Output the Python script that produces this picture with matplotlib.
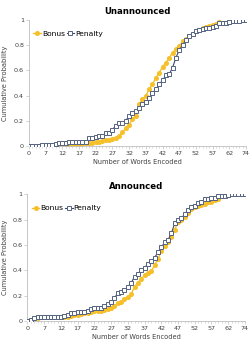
import matplotlib
matplotlib.use("Agg")
import matplotlib.pyplot as plt
from matplotlib.ticker import MultipleLocator

## cumulative probability of words encoded, bonus vs penalty, two panels

tick_labels = ['0', '7', '12', '17', '22', '27', '32', '37', '42', '47', '52', '57', '62', '74']

unann_penalty = [0.0, 0.0, 0.0, 0.0, 0.005, 0.005, 0.01, 0.01, 0.015, 0.02,
                 0.02, 0.025, 0.03, 0.03, 0.03, 0.03, 0.03, 0.03, 0.06, 0.065,
                 0.07, 0.075, 0.08, 0.10, 0.10, 0.13, 0.16, 0.18, 0.18, 0.20,
                 0.24, 0.26, 0.28, 0.30, 0.33, 0.35, 0.38, 0.42, 0.45, 0.49,
                 0.52, 0.56, 0.57, 0.62, 0.70, 0.76, 0.80, 0.84, 0.87, 0.89,
                 0.91, 0.92, 0.93, 0.935, 0.94, 0.945, 0.95, 0.975, 0.98, 0.98,
                 0.985, 0.99, 0.99, 0.995, 1.0, 1.0]
unann_bonus = [0.0, 0.0, 0.0, 0.0, 0.0, 0.0, 0.0, 0.0, 0.0, 0.0,
               0.005, 0.005, 0.01, 0.01, 0.01, 0.015, 0.015, 0.02, 0.02, 0.025,
               0.03, 0.035, 0.04, 0.045, 0.05, 0.055, 0.06, 0.08, 0.11, 0.14,
               0.17, 0.21, 0.24, 0.33, 0.37, 0.40, 0.45, 0.49, 0.54, 0.58,
               0.63, 0.66, 0.70, 0.74, 0.77, 0.79, 0.83, 0.85, 0.87, 0.89,
               0.91, 0.92, 0.94, 0.945, 0.95, 0.96, 0.97, 0.985]

ann_penalty = [0.0, 0.01, 0.02, 0.03, 0.03, 0.03, 0.03, 0.03, 0.03, 0.03,
               0.03, 0.035, 0.05, 0.06, 0.065, 0.07, 0.07, 0.07, 0.08, 0.09,
               0.10, 0.10, 0.105, 0.12, 0.13, 0.15, 0.18, 0.22, 0.23, 0.24,
               0.27, 0.30, 0.35, 0.37, 0.40, 0.42, 0.45, 0.47, 0.50, 0.54,
               0.58, 0.62, 0.64, 0.69, 0.77, 0.80, 0.81, 0.845, 0.875, 0.90,
               0.91, 0.93, 0.94, 0.96, 0.965, 0.97, 0.97, 0.985, 0.99, 0.99,
               0.995, 1.0, 1.0, 1.0, 1.0, 1.0]
ann_bonus = [0.0, 0.01, 0.02, 0.025, 0.03, 0.03, 0.03, 0.03, 0.03, 0.03,
             0.03, 0.03, 0.03, 0.04, 0.045, 0.05, 0.055, 0.06, 0.065, 0.07,
             0.075, 0.08, 0.08, 0.085, 0.09, 0.10, 0.12, 0.14, 0.15, 0.17,
             0.19, 0.21, 0.27, 0.30, 0.33, 0.36, 0.38, 0.39, 0.44, 0.49,
             0.55, 0.59, 0.62, 0.66, 0.72, 0.78, 0.80, 0.82, 0.85, 0.885,
             0.90, 0.91, 0.915, 0.925, 0.935, 0.94, 0.955, 0.965]

bonus_col = '#F6C02A'
pen_col = '#3B4A6B'
grey = '#BFBFBF'

fig = plt.figure(figsize=(2.52, 3.45), dpi=100)

panels = [
    ("Unannounced", unann_bonus, unann_penalty, [0.115, 0.577, 0.861, 0.365], -0.097),
    ("Announced", ann_bonus, ann_penalty, [0.109, 0.070, 0.863, 0.367], -0.09),
]

for title, bonus, penalty, rect, ylab_x in panels:
    ax = fig.add_axes(rect)
    ax.plot(range(len(bonus)), bonus, '-o', color=bonus_col, lw=1.0,
            ms=2.6, mec=bonus_col, mfc=bonus_col, label='Bonus', zorder=2)
    ax.plot(range(len(penalty)), penalty, '-s', color=pen_col, lw=0.8,
            ms=3.2, mec='#54637F', mfc='white', mew=0.7, label='Penalty', zorder=3)
    ax.set_xlim(0, 65)
    ax.set_ylim(0, 1)
    ax.set_xticks(range(0, 66, 5))
    ax.set_xticklabels(tick_labels)
    ax.xaxis.set_minor_locator(MultipleLocator(1))
    ax.set_yticks([0, 0.2, 0.4, 0.6, 0.8, 1])
    ax.set_yticklabels(['0', '0.2', '0.4', '0.6', '0.8', '1'])
    ax.tick_params(axis='both', labelsize=4.6, colors='#404040', length=2, width=0.5, pad=1.5)
    ax.tick_params(axis='x', which='minor', length=1.5, width=0.4, color=grey)
    ax.tick_params(axis='x', which='major', color=grey)
    ax.tick_params(axis='y', color=grey)
    for s in ['top', 'right']:
        ax.spines[s].set_visible(False)
    for s in ['left', 'bottom']:
        ax.spines[s].set_color(grey)
        ax.spines[s].set_linewidth(0.6)
    ax.set_title(title, fontsize=6.2, fontweight='bold', pad=4)
    ax.set_xlabel('Number of Words Encoded', fontsize=4.8, color='#404040', labelpad=2.5)
    ax.set_ylabel('Cumulative Probability', fontsize=4.8, color='#404040')
    ax.yaxis.set_label_coords(ylab_x, 0.5)
    ax.legend(loc='upper left', bbox_to_anchor=(0.0, 0.95), ncol=2, frameon=False,
              fontsize=5.4, handlelength=1.0, handletextpad=0.15, columnspacing=0.2,
              borderaxespad=0.2)

plt.savefig("out.png", dpi=100)
